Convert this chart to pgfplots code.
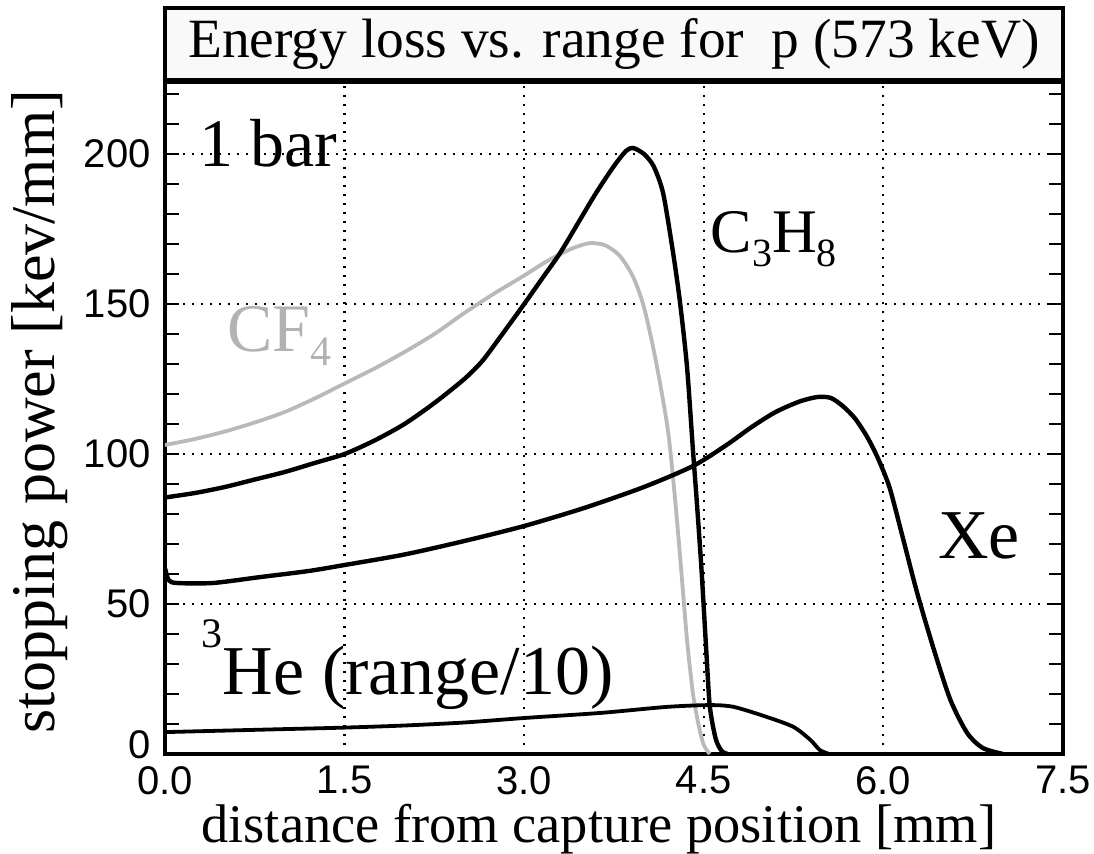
\documentclass[border=0pt]{standalone}
\usepackage{fontspec}
\setmainfont{Liberation Serif}
\newfontfamily\ticksf{Liberation Sans}
\usepackage{pgfplots}
\pgfplotsset{compat=1.18}

\pgfplotstableread{
x y
0.00 85.5
0.25 87
0.50 89
0.75 91.5
1.00 94
1.25 97
1.50 100
1.75 104.5
2.00 110
2.25 117
2.50 125
2.65 131
2.80 139
3.00 150
3.15 158.5
3.30 167
3.45 177
3.60 187
3.75 196
3.85 201
3.91 202
4.00 200
4.08 196
4.16 187
4.24 168
4.30 151
4.36 129
4.41 101
4.44 85
4.48 62
4.52 35
4.55 16
4.60 5
4.65 1
4.70 0
}\propane

\pgfplotstableread{
x y
0.00 103
0.25 105
0.50 107.5
0.75 110.5
1.00 114
1.25 118.5
1.50 123.5
1.75 128.5
2.00 134
2.25 140
2.50 147
2.75 153.5
3.00 159.5
3.20 164.5
3.40 168.5
3.55 170.3
3.68 169.5
3.80 166
3.91 159
4.00 149
4.10 131
4.20 108
4.26 85
4.31 62
4.36 38
4.41 20
4.46 9
4.50 3
4.55 0
}\cffour

\pgfplotstableread{
x y
0.00 62
0.03 58
0.10 57
0.40 57
0.80 59
1.20 61
1.50 63
2.00 66.5
2.50 71
3.00 76
3.50 82
4.00 89
4.41 96
4.69 103
4.90 109
5.10 114
5.30 117.5
5.45 119
5.56 118.7
5.66 116
5.76 112
5.86 106
5.95 99
6.05 89
6.15 74
6.28 54
6.42 35
6.56 18
6.70 7
6.83 2
7.00 0
}\xenon

\pgfplotstableread{
x y
0.00 7.3
0.50 7.8
1.00 8.3
1.50 8.8
2.00 9.5
2.50 10.5
3.00 12
3.64 13.7
4.19 15.7
4.55 16.3
4.75 15.7
5.03 12.3
5.25 9
5.39 4.7
5.47 1.3
5.55 0
}\helium

\begin{document}
\begin{tikzpicture}
\path[use as bounding box] (-82.5pt,-49.5pt) rectangle (464.5pt,377pt);
\begin{axis}[
  at={(0pt,0pt)}, anchor=south west,
  scale only axis, width=449pt, height=336pt,
  xmin=0, xmax=7.5, ymin=0, ymax=224,
  xtick={0,1.5,3,4.5,6,7.5},
  xticklabels={0.0,1.5,3.0,4.5,6.0,7.5},
  ytick={0,50,100,150,200},
  yticklabels={\smash{\raisebox{-2pt}{0}},50,100,150,200},
  minor ytick={10,20,30,40,60,70,80,90,110,120,130,140,160,170,180,190,210,220},
  /pgf/number format/assume math mode=true,
  tick label style={font=\fontsize{20}{20}\ticksf},
  xticklabel style={yshift=-4pt, inner sep=2pt},
  yticklabel style={inner sep=2pt, xshift=-5pt},
  xtick style={draw=none},
  ytick style={black, line width=1pt},
  major tick length=7pt, minor tick length=7pt,
  tick align=inside,
  grid=major,
  major grid style={black, line width=1.1pt, dash pattern=on 1.1pt off 3.4pt},
  axis line style={line width=2pt},
  every axis title shift=0pt,
  title={Energy loss vs. range for~ p (573 keV)},
  title style={at={(axis description cs:0.5,1)}, anchor=south, yshift=0pt, draw=black,
    line width=2pt, fill=gray!5, minimum width=449pt, minimum height=36pt,
    inner sep=0pt, font=\fontsize{27.7}{27.7}\selectfont},
  xlabel={distance from capture position [mm]},
  xlabel style={at={(axis description cs:0.483,-0.132)}, anchor=base, inner sep=0pt,
    font=\fontsize{27.2}{27.2}\selectfont},
  ylabel={stopping power [kev/mm]},
  ylabel style={at={(axis description cs:-0.139,0.509)}, anchor=center,
    font=\fontsize{31}{31}\selectfont},
]
\addplot[gray!55, line width=1.9pt, smooth, tension=0.45] table[x=x,y=y] {\cffour};
\addplot[black, line width=2.2pt, smooth, tension=0.45] table[x=x,y=y] {\propane};
\addplot[black, line width=2.2pt, smooth, tension=0.45] table[x=x,y=y] {\xenon};
\addplot[black, line width=1.9pt, smooth, tension=0.45] table[x=x,y=y] {\helium};

\node[anchor=base west, font=\fontsize{34}{34}\selectfont, inner sep=1pt] at (axis cs:0.27,195.7) {1 bar};
\node[anchor=base west, font=\fontsize{31}{31}\selectfont] at (axis cs:4.50,167.3) {C\raisebox{-7pt}{\fontsize{20}{20}\selectfont 3}H\raisebox{-7pt}{\fontsize{20}{20}\selectfont 8}};
\node[anchor=base west, text=gray!60, font=\fontsize{34}{34}\selectfont] at (axis cs:0.46,134) {CF\raisebox{-7pt}{\fontsize{21}{21}\selectfont 4}};
\node[anchor=base west, font=\fontsize{35}{35}\selectfont] at (axis cs:6.40,65.3) {Xe};
\node[anchor=base west, font=\fontsize{35}{35}\selectfont] at (axis cs:0.25,19.7) {\raisebox{23.5pt}{\fontsize{21}{21}\selectfont 3}He (range/10)};
\end{axis}
\end{tikzpicture}
\end{document}
